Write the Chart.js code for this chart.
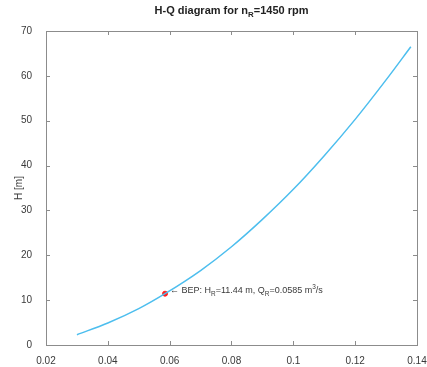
<!DOCTYPE html>
<html>
<head>
<meta charset="utf-8">
<script src="https://cdn.jsdelivr.net/npm/chart.js@4/dist/chart.umd.min.js"></script>
<style>
  html, body { margin: 0; padding: 0; background: #fff; }
  #wrap { width: 427px; height: 367px; }
</style>
</head>
<body>
<div id="wrap"><canvas id="hq"></canvas></div>
<script>
// Values
const qValues = [0.030, 0.040, 0.050, 0.0585, 0.070, 0.080, 0.090, 0.100, 0.110, 0.120, 0.130, 0.138];
const hValues = [2.3, 4.9, 8.1, 11.44, 16.6, 21.9, 28.0, 34.7, 42.2, 50.3, 59.1, 66.5];
const bepQ = [0.0585];
const bepH = [11.44];
const xTicks = [0.02, 0.04, 0.06, 0.08, 0.1, 0.12, 0.14];
const yTicks = [0, 10, 20, 30, 40, 50, 60, 70];

const FONT = '"Liberation Sans", Arial, sans-serif';
const AXIS_COLOR = '#8c8c8c';
const TEXT_COLOR = '#3a3a3a';

// draw text with sub/superscripts, parts: [text, 'n'|'sub'|'sup']
function drawRich(ctx, parts, x, y, size, weight, align) {
  const measure = (t, s) => { ctx.font = `${weight} ${s}px ${FONT}`; return ctx.measureText(t).width; };
  let total = 0;
  parts.forEach(([t, k]) => { total += measure(t, k === 'n' ? size : size * 0.72); });
  let cx = align === 'center' ? x - total / 2 : x;
  ctx.textBaseline = 'middle';
  ctx.textAlign = 'left';
  parts.forEach(([t, k]) => {
    const s = k === 'n' ? size : size * 0.72;
    ctx.font = `${weight} ${s}px ${FONT}`;
    const dy = k === 'sub' ? size * 0.35 : k === 'sup' ? -size * 0.35 : 0;
    ctx.fillText(t, cx, y + dy);
    cx += ctx.measureText(t).width;
  });
}

const matlabAxes = {
  id: 'matlabAxes',
  afterDraw(chart) {
    const { ctx, chartArea: a, scales: { x, y } } = chart;
    ctx.save();
    ctx.strokeStyle = AXIS_COLOR;
    ctx.lineWidth = 1;
    ctx.strokeRect(Math.round(a.left) + 0.5, Math.round(a.top) + 0.5,
      Math.round(a.right - a.left), Math.round(a.bottom - a.top));
    const tl = 4;
    ctx.beginPath();
    xTicks.forEach(v => {
      const px = Math.round(x.getPixelForValue(v)) + 0.5;
      ctx.moveTo(px, a.bottom); ctx.lineTo(px, a.bottom - tl);
      ctx.moveTo(px, a.top); ctx.lineTo(px, a.top + tl);
    });
    yTicks.forEach(v => {
      const py = Math.round(y.getPixelForValue(v)) + 0.5;
      ctx.moveTo(a.left, py); ctx.lineTo(a.left + tl, py);
      ctx.moveTo(a.right, py); ctx.lineTo(a.right - tl, py);
    });
    ctx.stroke();

    // title
    ctx.fillStyle = '#222';
    drawRich(ctx, [['H-Q diagram for n', 'n'], ['R', 'sub'], ['=1450 rpm', 'n']],
      (a.left + a.right) / 2, 11, 11, 'bold', 'center');

    // y axis title
    ctx.save();
    ctx.translate(19, (a.top + a.bottom) / 2);
    ctx.rotate(-Math.PI / 2);
    ctx.fillStyle = TEXT_COLOR;
    drawRich(ctx, [['H [m]', 'n']], 0, 0, 10, 'normal', 'center');
    ctx.restore();

    // BEP annotation
    const bx = x.getPixelForValue(bepQ[0]);
    const by = y.getPixelForValue(bepH[0]);
    ctx.fillStyle = TEXT_COLOR;
    drawRich(ctx, [['\u2190 BEP: H', 'n'], ['R', 'sub'], ['=11.44 m, Q', 'n'], ['R', 'sub'],
      ['=0.0585 m', 'n'], ['3', 'sup'], ['/s', 'n']], bx + 5, by - 3, 9, 'normal', 'left');
    ctx.restore();
  }
};

const curve = qValues.map((q, i) => ({ x: q, y: hValues[i] }));
const bep = bepQ.map((q, i) => ({ x: q, y: bepH[i] }));

new Chart(document.getElementById('hq'), {
  type: 'scatter',
  data: {
    datasets: [
      {
        label: 'H-Q',
        data: curve,
        showLine: true,
        borderColor: '#4dbeee',
        borderWidth: 1.5,
        pointRadius: 0,
        cubicInterpolationMode: 'monotone'
      },
      {
        label: 'BEP',
        data: bep,
        pointRadius: 2.5,
        backgroundColor: '#ff2020',
        borderColor: '#ff2020'
      }
    ]
  },
  options: {
    responsive: true,
    maintainAspectRatio: false,
    animation: false,
    layout: { padding: { top: 31, right: 10, left: 0, bottom: 0 } },
    plugins: { legend: { display: false }, tooltip: { enabled: false } },
    scales: {
      x: {
        type: 'linear',
        min: 0.02,
        max: 0.14,
        afterBuildTicks: s => { s.ticks = xTicks.map(v => ({ value: v })); },
        afterFit: s => { s.height = 22; s.paddingLeft = 0; s.paddingRight = 0; },
        grid: { display: false },
        border: { display: false },
        ticks: {
          padding: 2,
          color: TEXT_COLOR,
          font: { family: FONT, size: 10 },
          maxRotation: 0,
          callback: v => String(Math.round(v * 100) / 100)
        }
      },
      y: {
        type: 'linear',
        min: 0,
        max: 70,
        afterBuildTicks: s => { s.ticks = yTicks.map(v => ({ value: v })); },
        afterFit: s => { s.width = 46; s.paddingTop = 0; s.paddingBottom = 0; },
        grid: { display: false },
        border: { display: false },
        ticks: {
          padding: 6,
          color: TEXT_COLOR,
          font: { family: FONT, size: 10 }
        }
      }
    }
  },
  plugins: [matlabAxes]
});
</script>
</body>
</html>
